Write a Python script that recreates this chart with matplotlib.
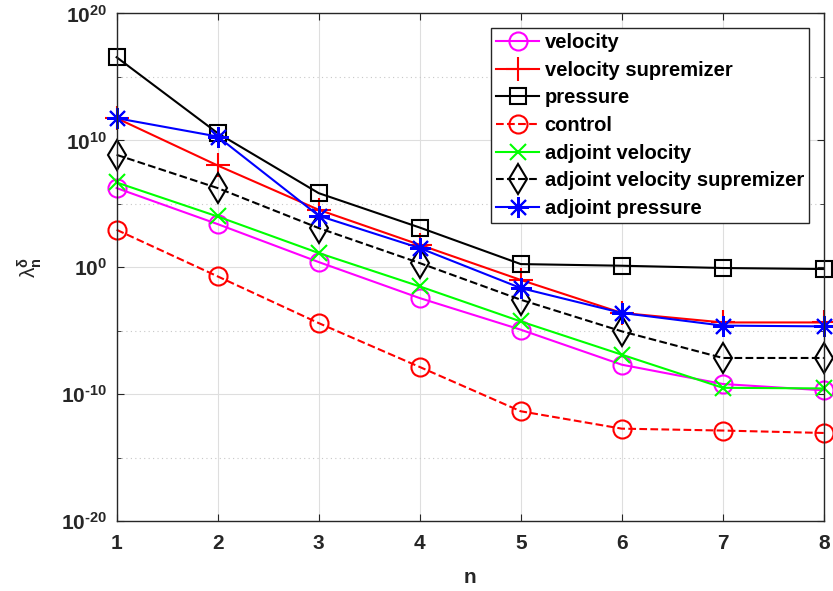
import numpy as np
import matplotlib
matplotlib.use("Agg")
import matplotlib.pyplot as plt
from matplotlib.ticker import FixedLocator, NullFormatter

plt.rcParams["font.family"] = "Liberation Sans"
plt.rcParams["font.weight"] = "bold"
plt.rcParams["mathtext.fontset"] = "custom"
plt.rcParams["mathtext.rm"] = "Liberation Sans:bold"
plt.rcParams["mathtext.it"] = "Liberation Sans:italic"
plt.rcParams["mathtext.bf"] = "Liberation Sans:bold"
plt.rcParams["mathtext.default"] = "rm"

N = [1, 2, 3, 4, 5, 6, 7, 8]

# log10 of the eigenvalues
velocity = [6.24, 3.4, 0.41, -2.43, -4.92, -7.68, -9.2, -9.7]
velocity_sup = [11.75, 8.02, 4.53, 1.77, -1.0, -3.6, -4.35, -4.35]
pressure = [16.55, 10.57, 5.84, 3.13, 0.25, 0.12, -0.06, -0.14]
control = [2.95, -0.72, -4.4, -7.86, -11.35, -12.72, -12.87, -13.06]
adj_velocity = [6.68, 4.0, 1.12, -1.51, -4.27, -6.89, -9.5, -9.55]
adj_velocity_sup = [8.86, 6.24, 3.09, 0.33, -2.56, -5.05, -7.15, -7.15]
adj_pressure = [11.75, 10.3, 4.06, 1.51, -1.64, -3.6, -4.6, -4.66]

ASTERISK = (8, 2, 0)

SERIES = [
    ("velocity", velocity, "#FF00FF", "o", "-", 13),
    ("velocity supremizer", velocity_sup, "#FF0000", "+", "-", 17),
    ("pressure", pressure, "#000000", "s", "-", 11),
    ("control", control, "#FF0000", "o", "--", 13),
    ("adjoint velocity", adj_velocity, "#00FF00", "x", "-", 11),
    ("adjoint velocity supremizer", adj_velocity_sup, "#000000", "d", "--", 15),
    ("adjoint pressure", adj_pressure, "#0000FF", ASTERISK, "-", 15),
]

YTICKS = [-20, -10, 0, 10, 20]
YMINOR = [-15, -5, 5, 15]


def main():
    fig = plt.figure(figsize=(8.33, 5.91), dpi=100)
    ax = fig.add_axes([0.14, 0.1184, 0.849, 0.8588])

    for label, vals, color, marker, ls, ms in SERIES:
        ax.semilogy(
            N, 10.0 ** np.array(vals),
            color=color, marker=marker, linestyle=ls, linewidth=1.5,
            markersize=ms, markerfacecolor="none", markeredgewidth=1.5,
            label=label, clip_on=False,
        )

    ax.set_xlim(1, 8)
    ax.set_ylim(1e-20, 1e20)
    ax.set_xticks(N)
    ax.set_xticklabels([str(n) for n in N])
    ax.yaxis.set_major_locator(FixedLocator([10.0 ** t for t in YTICKS]))
    ax.set_yticklabels([r"$10^{%s}$" % str(t).replace("-", "\u2010")
                        for t in YTICKS])
    ax.yaxis.set_minor_locator(FixedLocator([10.0 ** t for t in YMINOR]))
    ax.yaxis.set_minor_formatter(NullFormatter())

    ax.grid(True, which="major", color="#DEDEDE", linewidth=0.8)
    ax.grid(True, which="minor", axis="y", color="#C8C8C8",
            linestyle=(0, (1, 3)), linewidth=0.8)
    ax.set_axisbelow(True)

    ax.tick_params(which="both", direction="in", top=True, right=True,
                   labelsize=15, colors="#262626", length=5)
    ax.tick_params(axis="x", pad=9)
    ax.tick_params(axis="y", pad=7)
    ax.tick_params(which="minor", length=3)
    for s in ax.spines.values():
        s.set_color("#262626")
        s.set_linewidth(1.0)

    ax.set_xlabel("n", fontsize=15, fontweight="bold", color="#262626",
                  labelpad=11)
    ax.set_ylabel(r"$\mathregular{\lambda}_\mathbf{n}^{\delta}$", fontsize=15,
                  color="#262626", labelpad=12)

    leg = ax.legend(loc="upper right", bbox_to_anchor=(0.979, 0.9714),
                    fontsize=14.5, handlelength=2.1, handletextpad=0.3,
                    labelspacing=0.43, borderpad=0.25, borderaxespad=0,
                    fancybox=False, framealpha=1, edgecolor="#262626")
    leg.get_frame().set_linewidth(1.0)

    fig.savefig("out.png", dpi=100)


if __name__ == "__main__":
    main()
